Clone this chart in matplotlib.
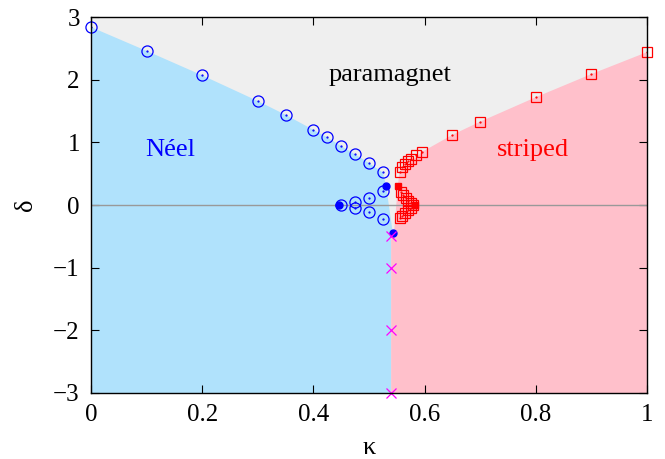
import numpy as np
import matplotlib
matplotlib.use('Agg')
import matplotlib.pyplot as plt

plt.rcParams['font.family'] = ['Liberation Serif', 'DejaVu Serif']

# Neel boundary (open circles)
neel_k = [0.0, 0.1, 0.2, 0.3, 0.35, 0.4, 0.425, 0.45, 0.475, 0.5, 0.525]
neel_d = [2.84, 2.46, 2.07, 1.66, 1.44, 1.20, 1.08, 0.94, 0.81, 0.67, 0.52]
# inner open circles near delta=0
inner_k = [0.45, 0.475, 0.475, 0.5, 0.5, 0.525, 0.525]
inner_d = [0.0, 0.05, -0.05, 0.12, -0.11, 0.23, -0.22]
# filled blue points
neel_fill_k = [0.447, 0.531, 0.543]
neel_fill_d = [0.0, 0.30, -0.44]

# striped boundary (open squares)
str_k = [0.596, 0.65, 0.7, 0.8, 0.9, 1.0]
str_d = [0.85, 1.12, 1.33, 1.72, 2.09, 2.44]
arm_k = [0.555, 0.56, 0.565, 0.57, 0.575, 0.585]
arm_d = [0.53, 0.61, 0.66, 0.71, 0.74, 0.80]
low_k = [0.557, 0.562, 0.567, 0.571, 0.576, 0.58, 0.576, 0.571, 0.565, 0.56, 0.556]
low_d = [0.21, 0.16, 0.11, 0.07, 0.03, 0.0, -0.04, -0.08, -0.13, -0.17, -0.21]
str_fill_k = [0.552, 0.583]
str_fill_d = [0.31, 0.0]

# crosses
cross_k = [0.54, 0.54, 0.54, 0.54]
cross_d = [-0.5, -1.0, -2.0, -3.0]

# region edges below the circles/squares
neel_edge_k = [0.531, 0.543, 0.54, 0.54]
neel_edge_d = [0.30, -0.45, -0.5, -3.0]
str_edge_k = [0.552, 0.545, 0.54, 0.54]
str_edge_d = [0.31, -0.45, -0.5, -3.0]

fig = plt.figure(figsize=(6.65, 4.59), dpi=100)
ax = fig.add_axes([0.1368, 0.1438, 0.836, 0.819])
ax.set_facecolor('#efefef')

# regions
poly_k = [0.0] + neel_k + neel_edge_k
poly_d = [-3.0] + neel_d + neel_edge_d
ax.fill(poly_k, poly_d, color='#b0e2fc', lw=0, zorder=1)
poly_k = [1.0] + str_k[::-1] + [arm_k[0]] + str_edge_k
poly_d = [-3.0] + str_d[::-1] + [arm_d[0]] + str_edge_d
ax.fill(poly_k, poly_d, color='#ffc0cb', lw=0, zorder=1)

ax.axhline(0, color='#999999', lw=1, zorder=2)

# points
ck = neel_k + inner_k
cd = neel_d + inner_d
ax.plot(ck, cd, 'o', mfc='none', mec='blue', ms=8, mew=0.9, zorder=4, clip_on=False)
ax.plot(ck, cd, '.', color='blue', ms=1.2, zorder=4)
ax.plot(neel_fill_k, neel_fill_d, 'o', color='blue', ms=5, zorder=5)

sk = str_k + arm_k + low_k
sd = str_d + arm_d + low_d
ax.plot(sk, sd, 's', mfc='none', mec='red', ms=7.2, mew=0.9, zorder=4, clip_on=False)
ax.plot(sk, sd, '.', color='red', ms=1.2, zorder=4)
ax.plot(str_fill_k, str_fill_d, 's', color='red', ms=5, zorder=5)

ax.plot(cross_k, cross_d, 'x', color='magenta', ms=7.5, mew=0.9, zorder=6, clip_on=False)

ax.text(0.538, 2.07, 'paramagnet', ha='center', va='center', fontsize=19, color='black')
ax.text(0.142, 0.88, 'Néel', ha='center', va='center', fontsize=19, color='blue')
ax.text(0.795, 0.88, 'striped', ha='center', va='center', fontsize=19, color='red')

ax.set_xlim(0, 1)
ax.set_ylim(-3, 3)
ax.set_xticks([0, 0.2, 0.4, 0.6, 0.8, 1])
ax.set_xticklabels(['0', '0.2', '0.4', '0.6', '0.8', '1'])
ax.set_yticks([-3, -2, -1, 0, 1, 2, 3])
ax.set_yticklabels(['\u22123', '\u22122', '\u22121', '0', '1', '2', '3'])
ax.tick_params(direction='in', length=6, width=0.8, labelsize=18, top=True, right=True, pad=8)
ax.set_xlabel('κ', fontsize=19, labelpad=8)
ax.set_ylabel('δ', fontsize=19, labelpad=12)
for s in ax.spines.values():
    s.set_linewidth(1.0)
    s.set_zorder(7)

plt.savefig('out.png', dpi=100)
